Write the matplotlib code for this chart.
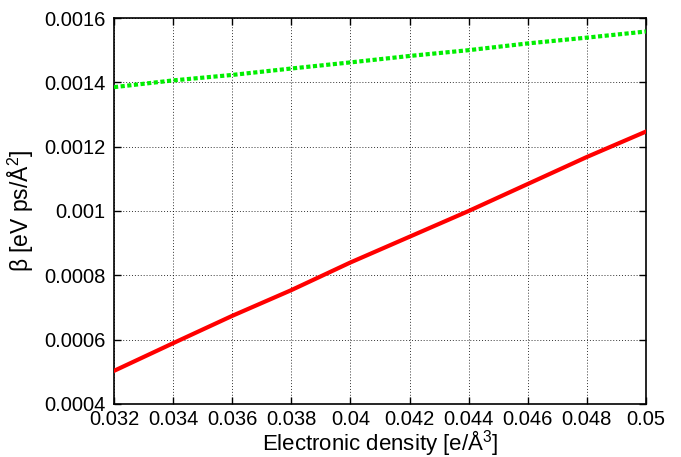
import matplotlib
matplotlib.use("Agg")
import matplotlib.pyplot as plt

plt.rcParams['font.family'] = ['Liberation Sans', 'DejaVu Sans']
plt.rcParams['mathtext.fontset'] = 'custom'
plt.rcParams['mathtext.rm'] = 'Liberation Sans'

density = [0.032, 0.034, 0.036, 0.038, 0.040, 0.042, 0.044, 0.046, 0.048, 0.050]
beta_red = [0.000503, 0.000589, 0.000674, 0.000754, 0.000840, 0.000920, 0.001000, 0.001084, 0.001168, 0.001247]
beta_green = [0.001385, 0.001406, 0.001423, 0.001443, 0.001462, 0.001482, 0.001500, 0.001521, 0.001539, 0.001558]

xticks = [0.032, 0.034, 0.036, 0.038, 0.04, 0.042, 0.044, 0.046, 0.048, 0.05]
xticklabels = ['0.032', '0.034', '0.036', '0.038', '0.04', '0.042', '0.044', '0.046', '0.048', '0.05']
yticks = [0.0004, 0.0006, 0.0008, 0.001, 0.0012, 0.0014, 0.0016]
yticklabels = ['0.0004', '0.0006', '0.0008', '0.001', '0.0012', '0.0014', '0.0016']

fig = plt.figure(figsize=(6.81, 4.57), dpi=100)
ax = fig.add_axes([0.1674, 0.116, 0.7812, 0.8446])

ax.plot(density, beta_green, color='#00ee00', lw=3, linestyle=(0, (1, 0.6)), solid_capstyle='butt', zorder=3)
ax.plot(density, beta_red, color='#ff0000', lw=3, zorder=3)

ax.set_xlim(0.032, 0.05)
ax.set_ylim(0.0004, 0.0016)
ax.set_xticks(xticks)
ax.set_xticklabels(xticklabels)
ax.set_yticks(yticks)
ax.set_yticklabels(yticklabels)
ax.tick_params(direction='in', top=True, right=True, length=5, width=1, labelsize=14.5)
ax.tick_params(axis='x', pad=4)
ax.tick_params(axis='y', pad=6)
ax.grid(True, color='black', linestyle=(0, (1, 2)), linewidth=0.7, alpha=0.8)
for s in ax.spines.values():
    s.set_linewidth(1.2)

ax.set_xlabel('Electronic density [e/Å$^3$]', fontsize=16, labelpad=0)
ax.set_ylabel('β [eV ps/Å$^2$]', fontsize=16.5, labelpad=6)

fig.savefig('out.png', dpi=100)
